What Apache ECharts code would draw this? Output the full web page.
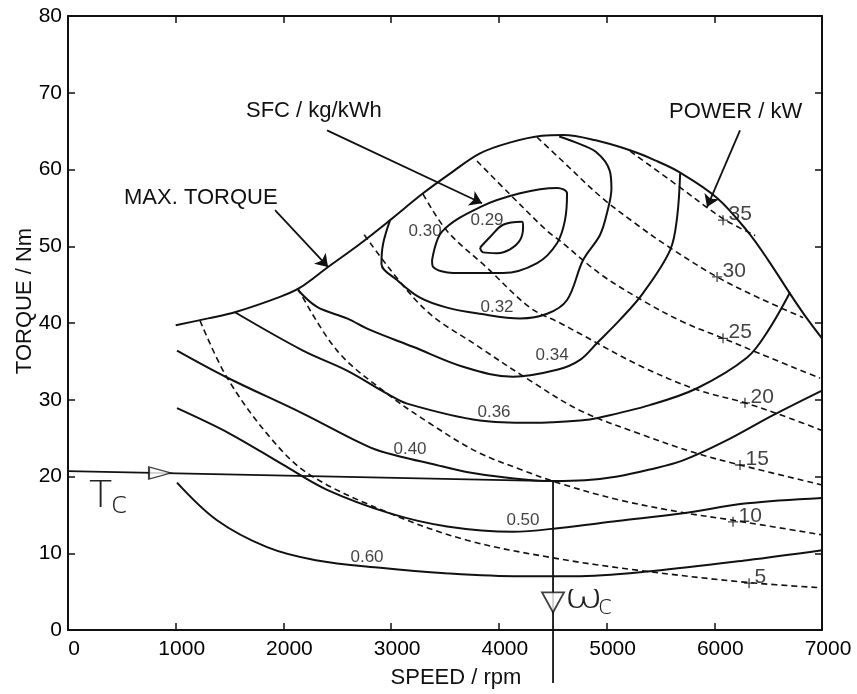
<!DOCTYPE html>
<html>
<head>
<meta charset="utf-8">
<script src="https://cdn.jsdelivr.net/npm/echarts@6/dist/echarts.min.js"></script>
<style>
html,body{margin:0;padding:0;background:#fff;}
#myChart{width:857px;height:694px;}
</style>
</head>
<body>
<div id="myChart"></div>
<script>
// axis ticks
var speedTicks = [0, 1000, 2000, 3000, 4000, 5000, 6000, 7000];
var torqueTicks = [0, 10, 20, 30, 40, 50, 60, 70, 80];

// max torque curve [rpm, Nm]
var maxTorque = [[1000,39.7],[1300,40.6],[1550,41.4],[1968,43.4],[2154,44.6],[2414,47.3],[2700,50.2],[2990,53.4],[3296,56.9],[3560,59.6],[3825,62.1],[4100,63.5],[4400,64.4],[4600,64.5],[4900,63.8],[5218,62.5],[5450,61.2],[5683,59.6],[6026,56.3],[6305,52.0],[6500,48.2],[6704,43.8],[6850,40.8],[7000,38.0]];

// SFC contours kg/kWh
var sfc029 = [[3825,49.8],[3918,51.2],[4039,52.8],[4215,53.2],[4225,52.5],[4197,50.8],[4104,49.6],[3983,49.1],[3853,49.2],[3825,49.8]];
var sfc030 = [[3380,48.2],[3472,51.9],[3825,55.1],[4197,56.9],[4540,57.6],[4633,56.9],[4614,53.4],[4540,50.4],[4355,47.8],[4039,46.5],[3575,46.5],[3389,47.3],[3380,48.2]];
var sfc032 = [[2990,53.4],[2925,50.3],[2910,47.7],[3055,45.6],[3268,43.3],[3519,42.0],[3825,41.2],[4197,40.6],[4448,41.2],[4633,43.0],[4782,48.2],[4940,51.5],[5010,54.7],[5045,57.5],[5030,59.8],[4900,62.3],[4700,63.6],[4560,64.3]];
var sfc034 = [[2135,44.3],[2312,42.1],[2590,40.6],[2804,39.1],[3203,36.9],[3668,34.3],[4132,33.0],[4540,33.9],[4754,35.2],[4912,37.4],[5130,40.5],[5339,43.9],[5590,49.5],[5655,53.8],[5683,59.5]];
var sfc036 = [[1550,41.4],[2182,36.4],[2590,33.8],[2962,30.8],[3148,29.5],[3825,27.3],[4300,27.0],[4754,27.3],[4940,27.7],[5400,29.3],[5840,31.5],[6305,35.5],[6500,39.0],[6704,44.0]];
var sfc040 = [[1012,36.4],[1476,32.9],[2182,28.2],[2804,23.8],[3111,22.5],[3361,21.7],[3700,20.6],[4100,19.8],[4500,19.4],[4800,19.5],[5100,20.0],[5400,20.9],[5710,22.1],[6100,24.6],[6546,28.0],[7000,31.2]];
var sfc050 = [[1012,28.9],[1500,25.6],[2000,21.5],[2400,18.3],[2990,15.2],[3519,13.5],[4132,12.8],[4568,13.3],[5100,14.2],[5710,15.2],[6305,16.5],[7000,17.2]];
var sfc060 = [[1012,19.2],[1383,14.3],[1848,10.8],[2300,9.1],[2900,8.1],[3500,7.4],[4200,7.0],[4700,7.0],[5432,7.7],[6305,9.1],[7000,10.4]];

// constant power lines kW
var pow05 = [[1226,40.3],[1476,32.9],[1876,25.1],[2247,20.2],[2990,15.2],[3705,11.7],[4503,9.4],[5283,7.8],[6305,6.2],[7000,5.5]];
var pow10 = [[2135,44.5],[2498,36.4],[2962,30.8],[3361,26.9],[3800,23.2],[4225,20.8],[4568,19.1],[5100,17.0],[5710,15.3],[6174,14.3],[7000,12.4]];
var pow15 = [[2750,51.5],[3296,42.0],[3825,36.8],[4290,32.5],[4754,28.6],[5300,25.6],[5840,23.0],[6239,21.5],[7000,18.9]];
var pow20 = [[3296,56.8],[3519,52.0],[3890,47.2],[4290,42.0],[4568,40.0],[4754,38.6],[5300,34.5],[5840,31.3],[6285,29.6],[6700,27.6],[7000,26.0]];
var pow25 = [[3797,61.1],[4100,56.8],[4448,52.0],[4568,50.7],[4950,46.3],[5339,42.9],[5700,40.2],[6082,38.0],[6425,36.0],[6982,32.8]];
var pow30 = [[4355,64.2],[4568,61.4],[4950,56.4],[5283,52.8],[5590,49.8],[6026,46.0],[6425,43.2],[6825,40.7]];
var pow35 = [[5218,62.4],[5650,58.0],[6082,53.6],[6379,51.4]];

// labels
var sfcLabels = [[3890,53.4,'0.29'],[3315,51.9,'0.30'],[3983,42.0,'0.32'],[4494,35.8,'0.34'],[3955,28.4,'0.36'],[3175,23.5,'0.40'],[4224,14.3,'0.50'],[2776,9.5,'0.60']];
var powerLabels = [[6081,53.4,'35'],[6026,46.0,'30'],[6081,38.0,'25'],[6285,29.6,'20'],[6239,21.5,'15'],[6174,14.1,'10'],[6323,6.1,'5']];

// hand drawn operating point
var tcLine = [[0,20.7],[4503,19.4]];
var wcLine = [[4503,19.4],[4503,-6.9]];
var tcArrow = [[854,20.45]];
var wcArrow = [[4503,3.6]];

// annotation arrows [from, to]
var arrows = [[[2405,65.1],[3844,55.6]],[[1922,54.7],[2414,47.3]],[[6239,65.1],[5933,55.1]]];

var FONT = 'Liberation Sans';
var INK = '#111';

function curve(name, data, dashed){
  return {
    name: name, type: 'line', data: data, smooth: 0.35, symbol: 'none', silent: true,
    z: dashed ? 2 : 3,
    lineStyle: {color: INK, width: dashed ? 1.6 : 2, type: dashed ? [6,4] : 'solid'}
  };
}

var series = [
  curve('max', maxTorque, false),
  curve('0.29', sfc029, false), curve('0.30', sfc030, false), curve('0.32', sfc032, false),
  curve('0.34', sfc034, false), curve('0.36', sfc036, false), curve('0.40', sfc040, false),
  curve('0.50', sfc050, false), curve('0.60', sfc060, false),
  curve('5', pow05, true), curve('10', pow10, true), curve('15', pow15, true), curve('20', pow20, true),
  curve('25', pow25, true), curve('30', pow30, true), curve('35', pow35, true)
];

// arrows for the text notes
series.push({
  type: 'line', data: [], silent: true,
  markLine: {
    silent: true, symbol: ['none','arrow'], symbolSize: 12, label: {show:false},
    itemStyle: {color: INK},
    lineStyle: {color: INK, width: 1.8, type: 'solid'},
    data: arrows.map(function(a){ return [{coord:a[0]},{coord:a[1]}]; })
  }
});

series.push({
  type: 'scatter', data: sfcLabels, symbolSize: 0, silent: true, z: 5,
  label: {show: true, position: 'inside', formatter: function(p){return p.value[2];},
    color: INK, fontSize: 17, fontFamily: FONT}
});
series.push({
  type: 'scatter', data: powerLabels, symbol: 'path://M5,0L5,10M0,5L10,5', symbolSize: 10, silent: true, z: 5,
  itemStyle: {color: 'none', borderColor: INK, borderWidth: 1.3},
  label: {show: true, position: 'right', distance: 0, offset: [-2,-6], formatter: function(p){return p.value[2];},
    color: INK, fontSize: 21, fontFamily: FONT}
});
series.push({type:'line', data: tcLine, symbol:'none', silent:true, lineStyle:{color:INK, width:1.8}});
series.push({type:'line', data: wcLine, symbol:'none', silent:true, clip:false, lineStyle:{color:INK, width:1.8}});
series.push({type:'scatter', data: tcArrow, symbol:'triangle', symbolSize:[12,22], symbolRotate:-90, silent:true, z:6,
  itemStyle:{color:'#fff', borderColor:INK, borderWidth:1.6}});
series.push({type:'scatter', data: wcArrow, symbol:'triangle', symbolSize:[22,20], symbolRotate:180, silent:true, z:6,
  itemStyle:{color:'#fff', borderColor:INK, borderWidth:1.8}});

var axisBase = {
  axisLine: {show: true, onZero: false, lineStyle: {color: INK, width: 2}},
  axisTick: {show: true, inside: true, length: 7, lineStyle: {color: INK, width: 1.5}},
  splitLine: {show: false}
};

function mk(extra){ return Object.assign({}, axisBase, extra); }
function plain(v){ return String(v); }

var option = {
  animation: false,
  backgroundColor: '#fff',
  grid: {left: 68, right: 35, top: 16, bottom: 64},
  xAxis: [
    mk({type:'value', position:'bottom', min: speedTicks[0], max: speedTicks[speedTicks.length-1], interval: 1000,
      axisLabel:{color:'#000', fontSize:21, fontFamily:FONT, margin:9, padding:[0,0,0,12], formatter: plain}}),
    mk({type:'value', position:'top', min: speedTicks[0], max: speedTicks[speedTicks.length-1], interval: 1000,
      axisLabel:{show:false}})
  ],
  yAxis: [
    mk({type:'value', position:'left', min: torqueTicks[0], max: torqueTicks[torqueTicks.length-1], interval: 10,
      axisLabel:{color:'#000', fontSize:21, fontFamily:FONT, margin:6, padding:[10,0,0,0], formatter: plain}}),
    mk({type:'value', position:'right', min: torqueTicks[0], max: torqueTicks[torqueTicks.length-1], interval: 10,
      axisLabel:{show:false}})
  ],
  graphic: [
    {type:'text', x:25, y:301, rotation: Math.PI/2, style:{text:'TORQUE / Nm', fontSize:22, fontFamily:FONT, fill:INK, align:'center', verticalAlign:'middle'}},
    {type:'text', x:456, y:678, style:{text:'SPEED / rpm', fontSize:22, fontFamily:FONT, fill:INK, align:'center', verticalAlign:'middle'}},
    {type:'text', x:246, y:111, style:{text:'SFC / kg/kWh', fontSize:22, fontFamily:FONT, fill:INK, align:'left', verticalAlign:'middle'}},
    {type:'text', x:124, y:198, style:{text:'MAX. TORQUE', fontSize:22, fontFamily:FONT, fill:INK, align:'left', verticalAlign:'middle'}},
    {type:'text', x:669, y:112, style:{text:'POWER / kW', fontSize:22, fontFamily:FONT, fill:INK, align:'left', verticalAlign:'middle'}},
    {type:'text', x:89, y:478, style:{text:'T', fontSize:38, fontWeight:'lighter', fontFamily:'DejaVu Sans', fill:'#222'}},
    {type:'text', x:111, y:490, style:{text:'c', fontSize:30, fontWeight:'lighter', fontFamily:'DejaVu Sans', fill:'#222'}},
    {type:'text', x:564, y:582, scaleX:1.4, style:{text:'ω', fontSize:34, fontWeight:'lighter', fontFamily:'DejaVu Sans', fill:'#222'}},
    {type:'text', x:598, y:594, style:{text:'c', fontSize:26, fontWeight:'lighter', fontFamily:'DejaVu Sans', fill:'#222'}}
  ],
  series: series
};

var myChart = echarts.init(document.getElementById('myChart'));
myChart.setOption(option);
</script>
</body>
</html>
